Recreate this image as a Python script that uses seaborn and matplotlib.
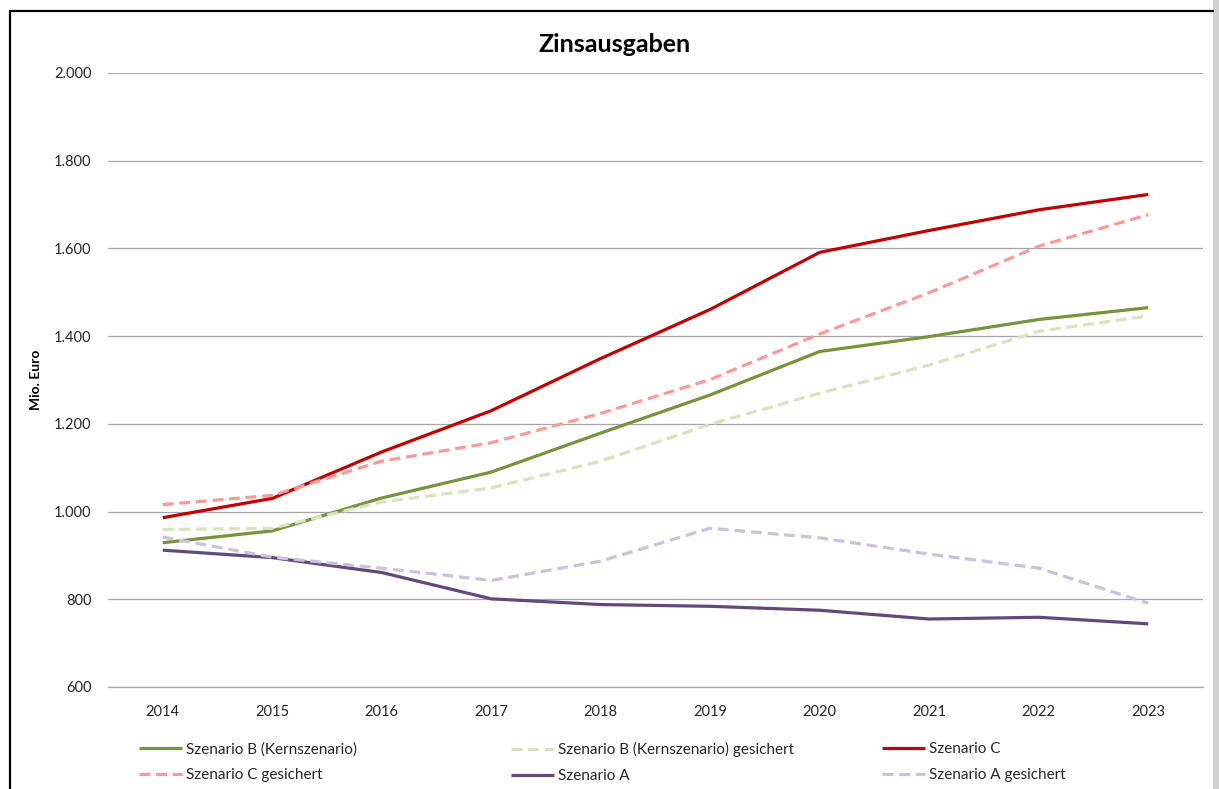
import matplotlib
matplotlib.use("Agg")
import matplotlib.pyplot as plt
from matplotlib.lines import Line2D
from matplotlib.patches import Rectangle
from matplotlib.ticker import FuncFormatter, FixedLocator
import numpy as np
import pandas as pd
import seaborn as sns

# ---------------------------------------------------------------------------
# Data (Mio. Euro)
# ---------------------------------------------------------------------------
years = [2014, 2015, 2016, 2017, 2018, 2019, 2020, 2021, 2022, 2023]

szenario_b = [929, 956, 1031, 1090, 1179, 1266, 1365, 1399, 1438, 1465]
szenario_b_ges = [959, 962, 1022, 1054, 1115, 1199, 1270, 1334, 1411, 1446]
szenario_c = [986, 1030, 1136, 1230, 1349, 1461, 1591, 1641, 1688, 1723]
szenario_c_ges = [1016, 1037, 1115, 1157, 1224, 1301, 1405, 1499, 1605, 1677]
szenario_a = [912, 895, 861, 801, 788, 784, 775, 755, 759, 744]
szenario_a_ges = [942, 896, 871, 843, 887, 962, 940, 903, 871, 791]

series_names = [
    "Szenario B (Kernszenario)",
    "Szenario B (Kernszenario) gesichert",
    "Szenario C",
    "Szenario C gesichert",
    "Szenario A",
    "Szenario A gesichert",
]
series_values = [szenario_b, szenario_b_ges, szenario_c,
                 szenario_c_ges, szenario_a, szenario_a_ges]

colors = {
    "Szenario B (Kernszenario)": "#77933C",
    "Szenario B (Kernszenario) gesichert": "#D7E4BD",
    "Szenario C": "#C00000",
    "Szenario C gesichert": "#FF9999",
    "Szenario A": "#604A7B",
    "Szenario A gesichert": "#CCC1DA",
}
DASH = (3.4, 1.8)
dashes = {
    "Szenario B (Kernszenario)": "",
    "Szenario B (Kernszenario) gesichert": DASH,
    "Szenario C": "",
    "Szenario C gesichert": DASH,
    "Szenario A": "",
    "Szenario A gesichert": DASH,
}

df = pd.DataFrame(
    [(name, y, v) for name, vals in zip(series_names, series_values)
     for y, v in zip(years, vals)],
    columns=["Szenario", "Jahr", "Wert"],
)

# ---------------------------------------------------------------------------
# Figure
# ---------------------------------------------------------------------------
W, H = 1219, 789
sns.set_style("white")
plt.rcParams["font.family"] = ["Lato", "DejaVu Sans"]

fig = plt.figure(figsize=(W / 100, H / 100), dpi=100)
ax = fig.add_axes([108 / W, 1 - 687 / H, (1203 - 108) / W, (687 - 73) / H])

LW = 2.3
sns.lineplot(
    data=df, x="Jahr", y="Wert",
    hue="Szenario", style="Szenario",
    hue_order=series_names, style_order=series_names,
    palette=colors, dashes=dashes,
    linewidth=LW, estimator=None, sort=False,
    legend=False, ax=ax,
)
for line in ax.lines:
    line.set_solid_capstyle("butt")
    line.set_dash_capstyle("butt")

ax.set_xlim(years[0] - 0.5, years[-1] + 0.5)
ax.set_ylim(600, 2000)
ax.set_yticks(np.arange(600, 2001, 200))
ax.yaxis.set_major_formatter(
    FuncFormatter(lambda v, _: f"{v:,.0f}".replace(",", ".")))
ax.set_xticks(years)
ax.set_xticklabels([str(y) for y in years])
ax.xaxis.set_minor_locator(FixedLocator(np.arange(years[0] - 0.5, years[-1] + 1, 1)))

ax.grid(axis="y", color="#a6a6a6", linewidth=0.9)
ax.set_axisbelow(True)
for side in ["left", "right", "top"]:
    ax.spines[side].set_visible(False)
ax.spines["bottom"].set_color("#a6a6a6")
ax.spines["bottom"].set_linewidth(0.9)

ax.tick_params(axis="y", length=0, pad=12, labelsize=10.5, labelcolor="#262626")
ax.tick_params(axis="x", which="major", length=0, pad=13, labelsize=10.5,
               labelcolor="#262626")
ax.tick_params(axis="x", which="minor", length=4.5, width=0.9, color="#a6a6a6")

ax.set_xlabel("")
ax.set_ylabel("Mio. Euro", fontsize=10, fontweight="bold", color="black")
ax.yaxis.set_label_coords((42 - 108) / (1203 - 108), 0.5)

fig.text(614.5 / W, 1 - 45 / H, "Zinsausgaben", ha="center", va="center",
         fontsize=18, fontweight="bold", color="black")

# Legend: three columns, equally spaced like the original
legend_cols = [
    (139, [series_names[0], series_names[3]]),
    (511, [series_names[1], series_names[4]]),
    (882, [series_names[2], series_names[5]]),
]
for x0, names in legend_cols:
    handles = [
        Line2D([], [], color=colors[n], linewidth=LW,
               linestyle="-" if dashes[n] == "" else (0, DASH),
               dash_capstyle="butt", solid_capstyle="butt")
        for n in names
    ]
    leg = fig.legend(
        handles, names, loc="upper left",
        bbox_to_anchor=(x0 / W, 1 - 742 / H),
        frameon=False, fontsize=11, handlelength=2.8, handletextpad=0.3,
        labelspacing=0.78, borderpad=0, borderaxespad=0,
    )
    for t in leg.get_texts():
        t.set_color("#262626")

# Outer chart frame (left/top black, right shadow)
fig.add_artist(Rectangle((1213 / W, 0), 6 / W, 1, transform=fig.transFigure,
                         facecolor="#d0d0d0", edgecolor="none"))
fig.add_artist(Line2D([10 / W, 10 / W], [0, 1 - 11 / H], transform=fig.transFigure,
                      color="black", linewidth=1.6))
fig.add_artist(Line2D([10 / W, 1213 / W], [1 - 11 / H, 1 - 11 / H],
                      transform=fig.transFigure, color="black", linewidth=1.6))

fig.savefig("out.png", dpi=100)
